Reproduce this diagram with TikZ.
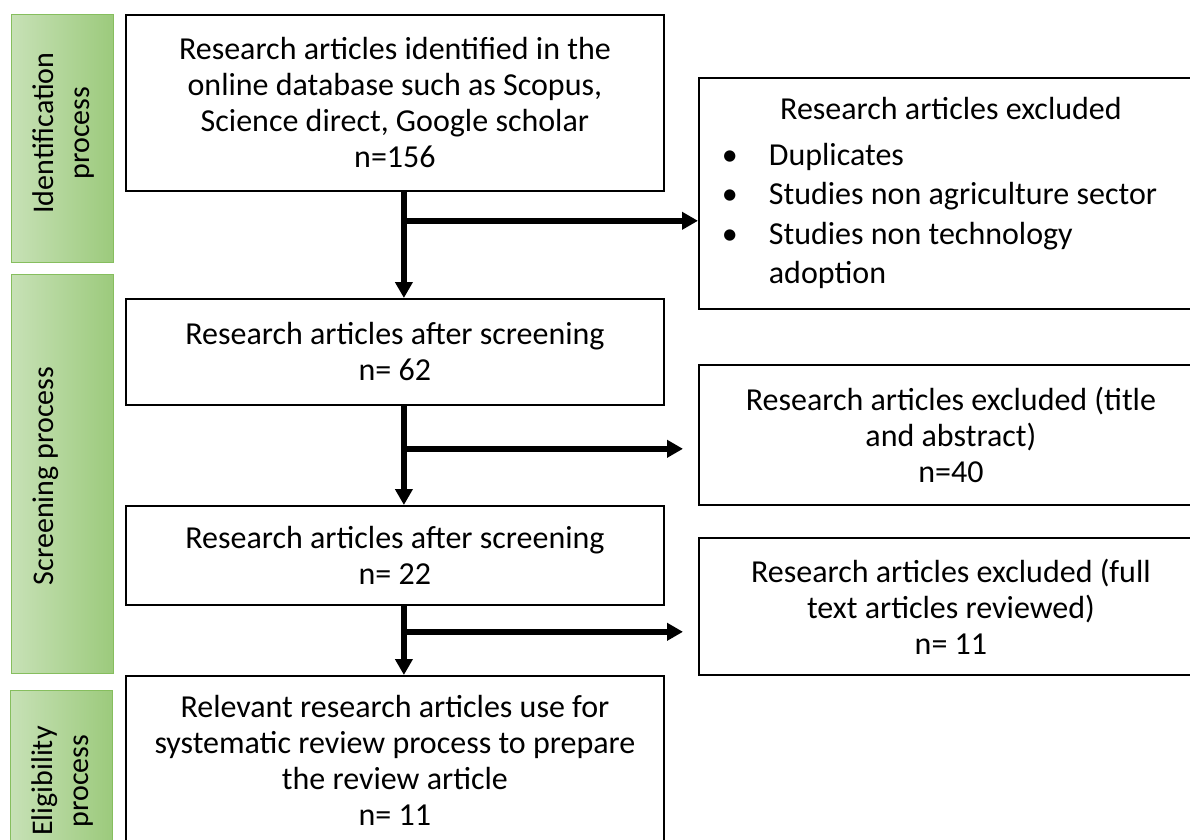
\documentclass[tikz,border=0pt]{standalone}
\usepackage{fontspec}
\setmainfont{Carlito}
\usetikzlibrary{arrows.meta,positioning}
\definecolor{stageL}{RGB}{199,225,182}
\definecolor{stageR}{RGB}{156,202,124}
\definecolor{stageB}{RGB}{134,190,94}

\begin{document}
\begin{tikzpicture}[x=1pt, y=-1pt, line join=miter,
    box/.style={draw, line width=1.8pt, anchor=north west, align=center, inner sep=0pt,
        minimum width=538pt, font=\fontsize{32}{36}\selectfont},
    exbox/.style={box, minimum width=504pt},
    stage/.style={draw=stageB, line width=1pt, left color=stageL, right color=stageR,
        anchor=north west, minimum width=102pt, inner sep=0pt},
    stagelabel/.style={rotate=90, align=center, inner sep=0pt, font=\fontsize{30}{36}\selectfont},
    flow/.style={line width=5.5pt, -{Triangle[width=17pt,length=16pt]}}]
    \clip (0,0) rectangle (1190,839);

    % stages on the left
    \node[stage, minimum height=248pt] (identbar) at (11,14) {};
    \node[stage, minimum height=399pt] (screenbar) at (11,274) {};
    \node[stage, minimum height=160pt] (eligbar) at (10,690) {};
    \node[stagelabel] (identlabel) at (64,133) {Identification\\process};
    \node[stagelabel, anchor=base] (screenlabel) at (53,476) {Screening process};
    \node[stagelabel] (eliglabel) at (63,781) {Eligibility\\process};

    % main column
    \node[box, minimum height=176pt] (ident) at (125,14)
        {Research articles identified in the\\online database such as Scopus,\\Science direct, Google scholar\\n=156};
    \node[box, minimum height=106pt] (screenA) at (125,298)
        {Research articles after screening\\n= 62};
    \node[box, minimum height=99pt] (screenB) at (125,505)
        {Research articles after screening\\n= 22};
    \node[box, minimum height=168pt] (relevant) at (125,675)
        {Relevant research articles use for\\systematic review process to prepare\\the review article\\n= 11};

    % excluded column
    \node[exbox, minimum height=231pt, align=left,
        font=\fontsize{32}{39.5}\selectfont] (exclA) at (698,77)
        {\makebox[502pt]{Research articles excluded}\\[6pt]
         \hspace*{22pt}\makebox[47pt][l]{\textbullet}Duplicates\\
         \hspace*{22pt}\makebox[47pt][l]{\textbullet}Studies non agriculture sector\\
         \hspace*{22pt}\makebox[47pt][l]{\textbullet}Studies non technology\\
         \hspace*{69pt}adoption};
    \node[exbox, minimum height=140pt] (exclB) at (698,364)
        {Research articles excluded (title\\and abstract)\\n=40};
    \node[exbox, minimum height=137pt] (exclC) at (698,537)
        {Research articles excluded (full\\text articles reviewed)\\n= 11};

    % connectors
    \coordinate (forkA) at ([xshift=9pt,yshift=-29pt]ident.south);
    \coordinate (forkB) at ([xshift=9pt,yshift=-43pt]screenA.south);
    \coordinate (forkC) at ([xshift=9pt,yshift=-26pt]screenB.south);
    \draw[flow] ([xshift=9pt]ident.south) -- ([xshift=9pt]screenA.north);
    \draw[flow] ([xshift=9pt]screenA.south) -- ([xshift=9pt]screenB.north);
    \draw[flow] ([xshift=9pt]screenB.south) -- ([xshift=9pt]relevant.north);
    \draw[flow] (forkA) -- (forkA -| exclA.west);
    \draw[flow, shorten >=15pt] (forkB) -- (forkB -| exclB.west);
    \draw[flow, shorten >=15pt] (forkC) -- (forkC -| exclC.west);
\end{tikzpicture}
\end{document}
